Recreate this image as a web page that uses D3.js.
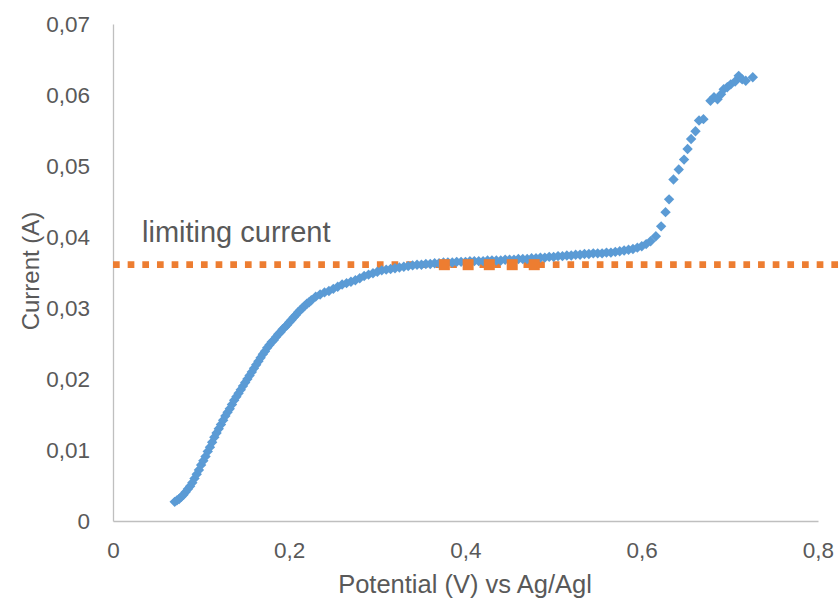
<!DOCTYPE html>
<html>
<head>
<meta charset="utf-8">
<script src="https://cdnjs.cloudflare.com/ajax/libs/d3/7.8.5/d3.min.js"></script>
<style>
  html, body { margin: 0; padding: 0; background: #fff; }
  svg { display: block; }
  text { font-family: "Liberation Sans", Arial, sans-serif; fill: #595959; }
</style>
</head>
<body>
<svg id="chart" width="839" height="600"></svg>
<script>
// Measured polarisation curve: potential (V vs Ag/AgI) and current (A)
const potential = [
  0.070, 0.075, 0.080, 0.085, 0.090, 0.095, 0.100, 0.105, 0.110, 0.115,
  0.120, 0.125, 0.130, 0.135, 0.140, 0.145, 0.150, 0.155, 0.160, 0.165,
  0.170, 0.175, 0.180, 0.185, 0.190, 0.195, 0.200, 0.205, 0.210, 0.215,
  0.220, 0.225, 0.230, 0.235, 0.240, 0.245, 0.250, 0.255, 0.260, 0.265,
  0.270, 0.275, 0.280, 0.285, 0.290, 0.295, 0.300, 0.305, 0.310, 0.315,
  0.320, 0.325, 0.330, 0.335, 0.340, 0.345, 0.350, 0.355, 0.360, 0.365,
  0.370, 0.375, 0.380, 0.385, 0.390, 0.395, 0.400, 0.405, 0.410, 0.415,
  0.420, 0.425, 0.430, 0.435, 0.440, 0.445, 0.450, 0.455, 0.460, 0.465,
  0.470, 0.475, 0.480, 0.485, 0.490, 0.495, 0.500, 0.505, 0.510, 0.515,
  0.520, 0.525, 0.530, 0.535, 0.540, 0.545, 0.550, 0.555, 0.560, 0.565,
  0.570, 0.575, 0.580, 0.585, 0.590, 0.595, 0.600, 0.605, 0.610, 0.616,
  0.622, 0.627, 0.631, 0.636, 0.642, 0.648, 0.652, 0.656, 0.661, 0.665,
  0.670, 0.678, 0.682, 0.686, 0.690, 0.693, 0.697, 0.701, 0.706, 0.710,
  0.714, 0.718, 0.726,
  // extra samples recorded on the rising edge
  0.0725, 0.0775, 0.0825, 0.0875, 0.0925, 0.0975, 0.1025, 0.1075, 0.1125, 0.1175,
  0.1225, 0.1275, 0.1325, 0.1375, 0.1425, 0.1475, 0.1525, 0.1575, 0.1625, 0.1675,
  0.1725, 0.1775, 0.1825, 0.1875, 0.1925, 0.1975, 0.2025, 0.2075, 0.2125, 0.2175,
  0.2225
];
const current = [
  0.0027, 0.0031, 0.0037, 0.0045, 0.0054, 0.0066, 0.0079, 0.0091, 0.0104, 0.0118,
  0.0130, 0.0142, 0.0153, 0.0164, 0.0175, 0.0185, 0.0195, 0.0205, 0.0215, 0.0225,
  0.0235, 0.0244, 0.0252, 0.0259, 0.0266, 0.0273, 0.0280, 0.0287, 0.0294, 0.0300,
  0.0306, 0.0311, 0.0316, 0.0319, 0.0322, 0.0324, 0.0327, 0.0330, 0.0333, 0.0335,
  0.0337, 0.0339, 0.0342, 0.0345, 0.0347, 0.0349, 0.0351, 0.0353, 0.0354, 0.0355,
  0.0356, 0.0357, 0.0358, 0.0359, 0.0360, 0.0361, 0.0361, 0.0362, 0.0362, 0.0363,
  0.0363, 0.0364, 0.0364, 0.0364, 0.0365, 0.0365, 0.0365, 0.0366, 0.0366, 0.0366,
  0.0366, 0.0367, 0.0367, 0.0367, 0.0367, 0.0368, 0.0368, 0.0368, 0.0369, 0.0369,
  0.0369, 0.0370, 0.0370, 0.0371, 0.0371, 0.0372, 0.0372, 0.0373, 0.0373, 0.0374,
  0.0374, 0.0375, 0.0375, 0.0376, 0.0376, 0.0377, 0.0377, 0.0377, 0.0378, 0.0378,
  0.0379, 0.0380, 0.0381, 0.0382, 0.0383, 0.0385, 0.0387, 0.0390, 0.0394, 0.0401,
  0.0415, 0.0435, 0.0453, 0.0481, 0.0495, 0.0509, 0.0524, 0.0538, 0.0549, 0.0564,
  0.0566, 0.0592, 0.0597, 0.0594, 0.0601, 0.0608, 0.0611, 0.0615, 0.0619, 0.0627,
  0.0622, 0.0620, 0.0625,
  0.0029, 0.0034, 0.0041, 0.0049, 0.0060, 0.0072, 0.0085, 0.0098, 0.0111, 0.0124,
  0.0136, 0.0148, 0.0158, 0.0170, 0.0180, 0.0190, 0.0200, 0.0210, 0.0220, 0.0230,
  0.0239, 0.0248, 0.0255, 0.0263, 0.0270, 0.0276, 0.0283, 0.0290, 0.0297, 0.0303,
  0.0308
];

// Points on the plateau used for the limiting current
const plateauPotential = [0.376, 0.403, 0.427, 0.453, 0.478];
const plateauCurrent = [0.0361, 0.0361, 0.0361, 0.0361, 0.0361];

const xTicks = [0, 0.2, 0.4, 0.6, 0.8];
const yTicks = [0, 0.01, 0.02, 0.03, 0.04, 0.05, 0.06, 0.07];

const xTitle = "Potential (V) vs Ag/Agl";
const yTitle = "Current (A)";
const noteText = "limiting current";

const svg = d3.select("#chart");
const fmt = v => (v === 0 ? "0" : d3.format(".2~f")(v).replace(".", ","));

const x = d3.scaleLinear().domain([0, 0.8]).range([113, 818]);
const y = d3.scaleLinear().domain([0, 0.07]).range([521, 24]);

// Axes: light grey lines, no tick marks
const xAxis = svg.append("g").attr("transform", `translate(0,${y(0)})`)
  .call(d3.axisBottom(x).tickValues(xTicks).tickSize(0).tickPadding(21)
    .tickFormat(d => (d === 0 ? "0" : d3.format(".1f")(d).replace(".", ","))));
const yAxis = svg.append("g").attr("transform", `translate(${x(0)},0)`)
  .call(d3.axisLeft(y).tickValues(yTicks).tickSize(0).tickPadding(23)
    .tickFormat(fmt));
[xAxis, yAxis].forEach(g => {
  g.select(".domain").attr("stroke", "#bfbfbf").attr("stroke-width", 1.3);
  g.selectAll("text").style("font-family", "'Liberation Sans', Arial, sans-serif")
    .style("font-size", "22.5px").attr("fill", "#595959");
});

// Limiting-current level as a dotted line across the plot
const level = d3.mean(plateauCurrent);
svg.append("line")
  .attr("x1", x(0)).attr("x2", x(0.83))
  .attr("y1", y(level)).attr("y2", y(level))
  .attr("stroke", "#ed7d31").attr("stroke-width", 6.7)
  .attr("stroke-dasharray", "6.7 7.96");

// Measured points as diamonds
const r = 5.2;
const diamond = `M0,${-r}L${r},0L0,${r}L${-r},0Z`;
svg.append("g").selectAll("path")
  .data(potential.map((p, i) => [p, current[i]]).sort((a, b) => a[0] - b[0]))
  .join("path")
  .attr("d", diamond)
  .attr("transform", d => `translate(${x(d[0])},${y(d[1])})`)
  .attr("fill", "#5b9bd5");

// Plateau points as squares
const s = 11;
svg.append("g").selectAll("rect")
  .data(plateauPotential.map((p, i) => [p, plateauCurrent[i]]))
  .join("rect")
  .attr("x", d => x(d[0]) - s / 2).attr("y", d => y(d[1]) - s / 2)
  .attr("width", s).attr("height", s)
  .attr("fill", "#ed7d31");

// Axis titles and annotation
svg.append("text").attr("x", 465).attr("y", 593).attr("text-anchor", "middle")
  .style("font-size", "25.5px").text(xTitle);
svg.append("text").attr("transform", "translate(39,271) rotate(-90)")
  .attr("text-anchor", "middle").style("font-size", "24px").text(yTitle);
svg.append("text").attr("x", 142).attr("y", 242)
  .style("font-size", "29px").text(noteText);
</script>
</body>
</html>
